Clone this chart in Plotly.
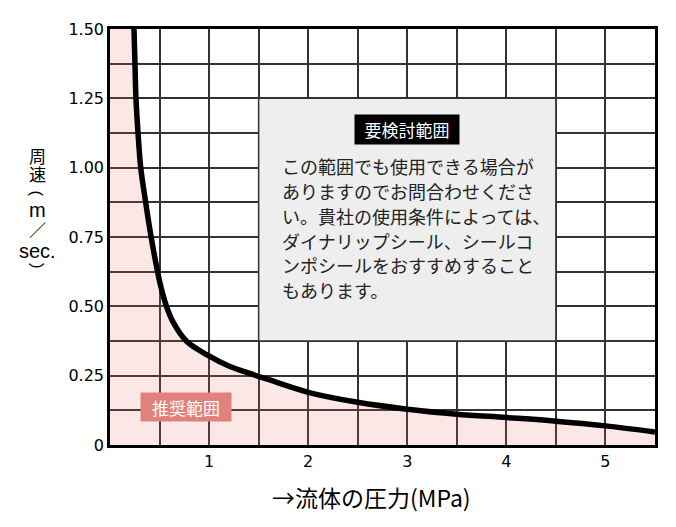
import plotly.graph_objects as go

# ── Data ────────────────────────────────────────
# pressure (MPa) vs peripheral speed (m/sec.) limit curve
pressure = [0.242, 0.252, 0.262, 0.283, 0.31, 0.36, 0.415, 0.48, 0.505, 0.57,
            0.64, 0.77, 0.98, 1.21, 1.41, 1.58, 2.0, 2.5, 3.0, 3.5, 4.0,
            4.5, 5.0, 5.5]
speed = [1.5, 1.375, 1.25, 1.125, 1.0, 0.875, 0.75, 0.625, 0.583, 0.5,
         0.441, 0.375, 0.325, 0.283, 0.258, 0.238, 0.19, 0.154, 0.129, 0.111,
         0.099, 0.086, 0.069, 0.047]

x_grid = [0.5, 1, 1.5, 2, 2.5, 3, 3.5, 4, 4.5, 5]
x_labels = ['', '1', '', '2', '', '3', '', '4', '', '5']
y_grid = [0, 0.125, 0.25, 0.375, 0.5, 0.625, 0.75, 0.875, 1.0, 1.125, 1.25, 1.375, 1.5]
y_labels = ['0', '', '0.25', '', '0.50', '', '0.75', '', '1.00', '', '1.25', '', '1.50']

# "needs review" zone
review_x = [1.5, 4.5]
review_y = [0.375, 1.25]
review_title = '要検討範囲'
review_lines = [
    'この範囲でも使用できる場合が',
    'ありますのでお問合わせくださ',
    'い。貴社の使用条件によっては、',
    'ダイナリップシール、シールコ',
    'ンポシールをおすすめすること',
    'もあります。',
]

# vertical y title, one piece per row (parens get turned sideways)
ytitle_parts = ['周', '速', '(', 'm', '／', 'sec.', ')']

JP = 'Noto Sans CJK JP'
SANS = 'DejaVu Sans, sans-serif'
LATIN = 'Liberation Sans, Arial, sans-serif'

fig = go.Figure()

# Recommended zone (pink, left/below the curve)
fig.add_trace(go.Scatter(
    x=[0] + pressure, y=[1.5] + speed,
    mode='lines', fill='tozeroy',
    fillcolor='rgba(230,110,100,0.16)',
    line=dict(width=0, shape='spline', smoothing=1.0),
    hoverinfo='skip', showlegend=False
))
# Limit curve
fig.add_trace(go.Scatter(
    x=pressure, y=speed, mode='lines',
    line=dict(color='black', width=5.5, shape='spline', smoothing=1.0),
    showlegend=False
))

# Grey review box covers the grid
fig.add_shape(type='rect', x0=review_x[0], x1=review_x[1],
              y0=review_y[0], y1=review_y[1], layer='above',
              fillcolor='#eeeeee', line=dict(color='#333', width=1.5))

fig.add_annotation(x=sum(review_x) / 2, y=1.137, text=review_title,
                   showarrow=False, bgcolor='black',
                   font=dict(family=JP, size=17, color='white'),
                   width=100, height=25, borderpad=2)

for i, line in enumerate(review_lines):
    fig.add_annotation(x=1.715, y=1.006 - i * 0.0896, text=line,
                       xanchor='left', yanchor='middle', showarrow=False,
                       font=dict(family=JP, size=18, color='#222'))

# Recommended label
fig.add_annotation(x=0.767, y=0.138, text='推奨範囲', showarrow=False,
                   bgcolor='#e0817b',
                   font=dict(family=JP, size=17, color='white'),
                   width=86, height=24, borderpad=2)

# Axis titles
fig.add_annotation(xref='paper', yref='paper', x=0.48, y=-0.125,
                   xanchor='center', yanchor='middle',
                   text='→流体の圧力(MPa)', showarrow=False,
                   font=dict(family=JP, size=23, color='black'))

# y title: stacked characters, pixel rows centred at x≈37
row_px = [149, 168, 188, 205, 225, 247, 262]
for part, py in zip(ytitle_parts, row_px):
    latin = part in ('m', 'sec.')
    paren = part in ('(', ')')
    fig.add_annotation(xref='paper', yref='paper',
                       x=(37 - 110) / 545, y=(445 - py) / 425,
                       xanchor='center', yanchor='middle',
                       text=part, showarrow=False,
                       textangle=90 if paren else 0,
                       font=dict(family=LATIN if (latin or paren) else JP,
                                 size=20 if latin else 17, color='black'))

fig.update_xaxes(range=[0, 5.5], tickvals=x_grid, ticktext=x_labels,
                 showgrid=True, gridcolor='#333', gridwidth=1.5,
                 showline=True, linecolor='black', linewidth=2.5, mirror=True,
                 zeroline=False, ticks='',
                 tickfont=dict(family=SANS, size=16, color='black'))
fig.update_yaxes(range=[0, 1.5], tickvals=y_grid, ticktext=y_labels,
                 showgrid=True, gridcolor='#333', gridwidth=1.5,
                 showline=True, linecolor='black', linewidth=2.5, mirror=True,
                 zeroline=False, ticks='',
                 tickfont=dict(family=SANS, size=16, color='black'))

# page body adds 8px, so the figure is 8px smaller than the window
fig.update_layout(
    width=668, height=519,
    paper_bgcolor='white', plot_bgcolor='white',
    margin=dict(l=102, r=21, t=12, b=82),
    showlegend=False
)

fig.write_html("out.html")
